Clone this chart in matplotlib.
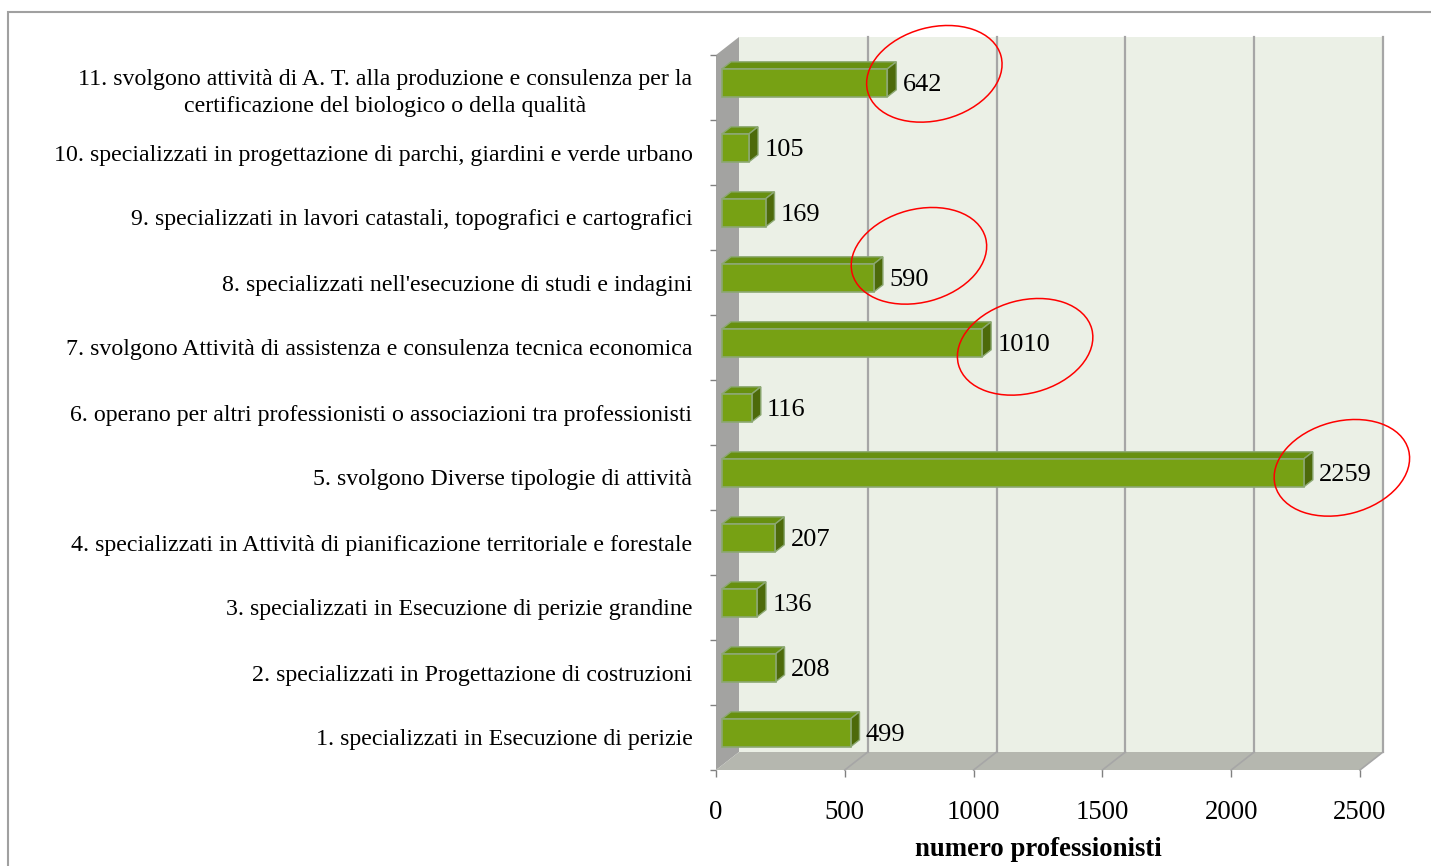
import numpy as np
import matplotlib.pyplot as plt
from matplotlib.patches import Polygon, Rectangle, Ellipse
from matplotlib.transforms import ScaledTranslation

plt.rcParams['font.family'] = ['Liberation Serif', 'DejaVu Serif']

# data ---------------------------------------------------------------------
categories = [
    "1. specializzati in Esecuzione di perizie",
    "2. specializzati in Progettazione di costruzioni",
    "3. specializzati in Esecuzione di perizie grandine",
    "4. specializzati in Attività di pianificazione territoriale e forestale",
    "5. svolgono Diverse tipologie di attività",
    "6. operano per altri professionisti o associazioni tra professionisti",
    "7. svolgono Attività di assistenza e consulenza tecnica economica",
    "8. specializzati nell'esecuzione di studi e indagini",
    "9. specializzati in lavori catastali, topografici e cartografici",
    "10. specializzati in progettazione di parchi, giardini e verde urbano",
    "11. svolgono attività di A. T. alla produzione e consulenza per la\n"
    "certificazione del biologico o della qualità",
]
values = [499, 208, 136, 207, 2259, 116, 1010, 590, 169, 105, 642]
circled = [10, 7, 6, 4]
x_ticks = [0, 500, 1000, 1500, 2000, 2500]
x_title = "numero professionisti"

# style --------------------------------------------------------------------
W, H = 1431, 866
DEPTH_PX = (23, 18)          # 3d depth of the walls, pixels
BAR_D0, BAR_D1 = 0.26, 0.65  # bar position inside the depth
BAR_HALF = 0.215
WALL = "#EBF0E6"
SIDE_WALL = "#A3A3A1"
FLOOR = "#B5B7AF"
GRID = "#A6A6A6"
BAR_FRONT = "#77A114"
BAR_TOP = "#679010"
BAR_SIDE = "#4D6A0A"
BAR_EDGE = "#8CA872"
# ellipse placement relative to the bar end (pixels), hand-drawn look
ELL_OFF = {10: (38, 9), 7: (36, 22), 6: (34, -4), 4: (29, 5)}

fig = plt.figure(figsize=(W / 100, H / 100), dpi=100)
ax = fig.add_axes([716 / W, (H - 770) / H, 644 / W, 715 / H])
n = len(categories)
ax.set_xlim(x_ticks[0], x_ticks[-1])
ax.set_ylim(-0.5, n - 0.5)
for s in ax.spines.values():
    s.set_visible(False)

DX = DEPTH_PX[0] * (x_ticks[-1] - x_ticks[0]) / ax.bbox.width
DY = DEPTH_PX[1] * n / ax.bbox.height
x0, x1 = x_ticks[0], x_ticks[-1]
y0, y1 = -0.5, n - 0.5


def poly(pts, fc, ec="none", lw=0, z=1):
    ax.add_patch(Polygon(pts, closed=True, fc=fc, ec=ec, lw=lw, zorder=z, clip_on=False))


# walls
poly([(x0 + DX, y0 + DY), (x1 + DX, y0 + DY), (x1 + DX, y1 + DY), (x0 + DX, y1 + DY)], WALL, z=0.5)
poly([(x0, y0), (x0 + DX, y0 + DY), (x0 + DX, y1 + DY), (x0, y1)], SIDE_WALL, z=0.5)
poly([(x0, y0), (x1, y0), (x1 + DX, y0 + DY), (x0 + DX, y0 + DY)], FLOOR, z=0.5)
for g in x_ticks[1:]:
    ax.plot([g + DX, g + DX], [y0 + DY, y1 + DY], color=GRID, lw=1.6, zorder=0.6, clip_on=False)
    ax.plot([g, g + DX], [y0, y0 + DY], color=GRID, lw=1.2, zorder=0.6, clip_on=False)

# bars
for i, v in enumerate(values):
    a0, a1 = BAR_D0, BAR_D1
    lo, hi = i - BAR_HALF, i + BAR_HALF
    poly([(a0 * DX, hi + a0 * DY), (v + a0 * DX, hi + a0 * DY),
          (v + a1 * DX, hi + a1 * DY), (a1 * DX, hi + a1 * DY)], BAR_TOP, BAR_EDGE, 1.0, 2)
    poly([(v + a0 * DX, lo + a0 * DY), (v + a0 * DX, hi + a0 * DY),
          (v + a1 * DX, hi + a1 * DY), (v + a1 * DX, lo + a1 * DY)], BAR_SIDE, BAR_EDGE, 1.0, 2)
    poly([(a0 * DX, lo + a0 * DY), (v + a0 * DX, lo + a0 * DY),
          (v + a0 * DX, hi + a0 * DY), (a0 * DX, hi + a0 * DY)], BAR_FRONT, BAR_EDGE, 1.2, 2.1)
    ax.annotate(str(v), xy=(v + a1 * DX, i + a0 * DY), xytext=(4.5, 0),
                textcoords="offset points", ha="left", va="center_baseline",
                fontsize=19, zorder=3)

# red ellipses
for i in circled:
    dx, dy = ELL_OFF[i]
    tr = fig.dpi_scale_trans + ScaledTranslation(values[i] + BAR_D1 * DX, i + BAR_D0 * DY, ax.transData)
    ax.add_patch(Ellipse((dx / 100, dy / 100), 1.38, 0.93, angle=15, transform=tr,
                         fill=False, ec="#FF0000", lw=1.1, zorder=4, clip_on=False))

# axes ticks / labels
ax.set_yticks(range(n))
ax.set_yticklabels(categories, ha="right", multialignment="center", fontsize=17.2,
                   linespacing=1.35)
ax.set_yticks(np.arange(-0.5, n), minor=True)
ax.tick_params(axis="y", which="major", length=0, pad=17)
ax.tick_params(axis="y", which="minor", length=4.5, width=1, color="#808080")
ax.set_xticks(x_ticks)
ax.set_xticklabels([str(t) for t in x_ticks], fontsize=19.3)
ax.tick_params(axis="x", length=5, width=1, color="#808080", pad=16.5)
ax.set_xlabel(x_title, fontsize=19.3, fontweight="bold", labelpad=8.5)

# outer frame
fig.add_artist(Rectangle((8 / W, -0.1), 1.2, (H - 12) / H + 0.1, transform=fig.transFigure,
                         fill=False, ec="#A0A0A0", lw=1.5))

fig.savefig("out.png", dpi=100)
